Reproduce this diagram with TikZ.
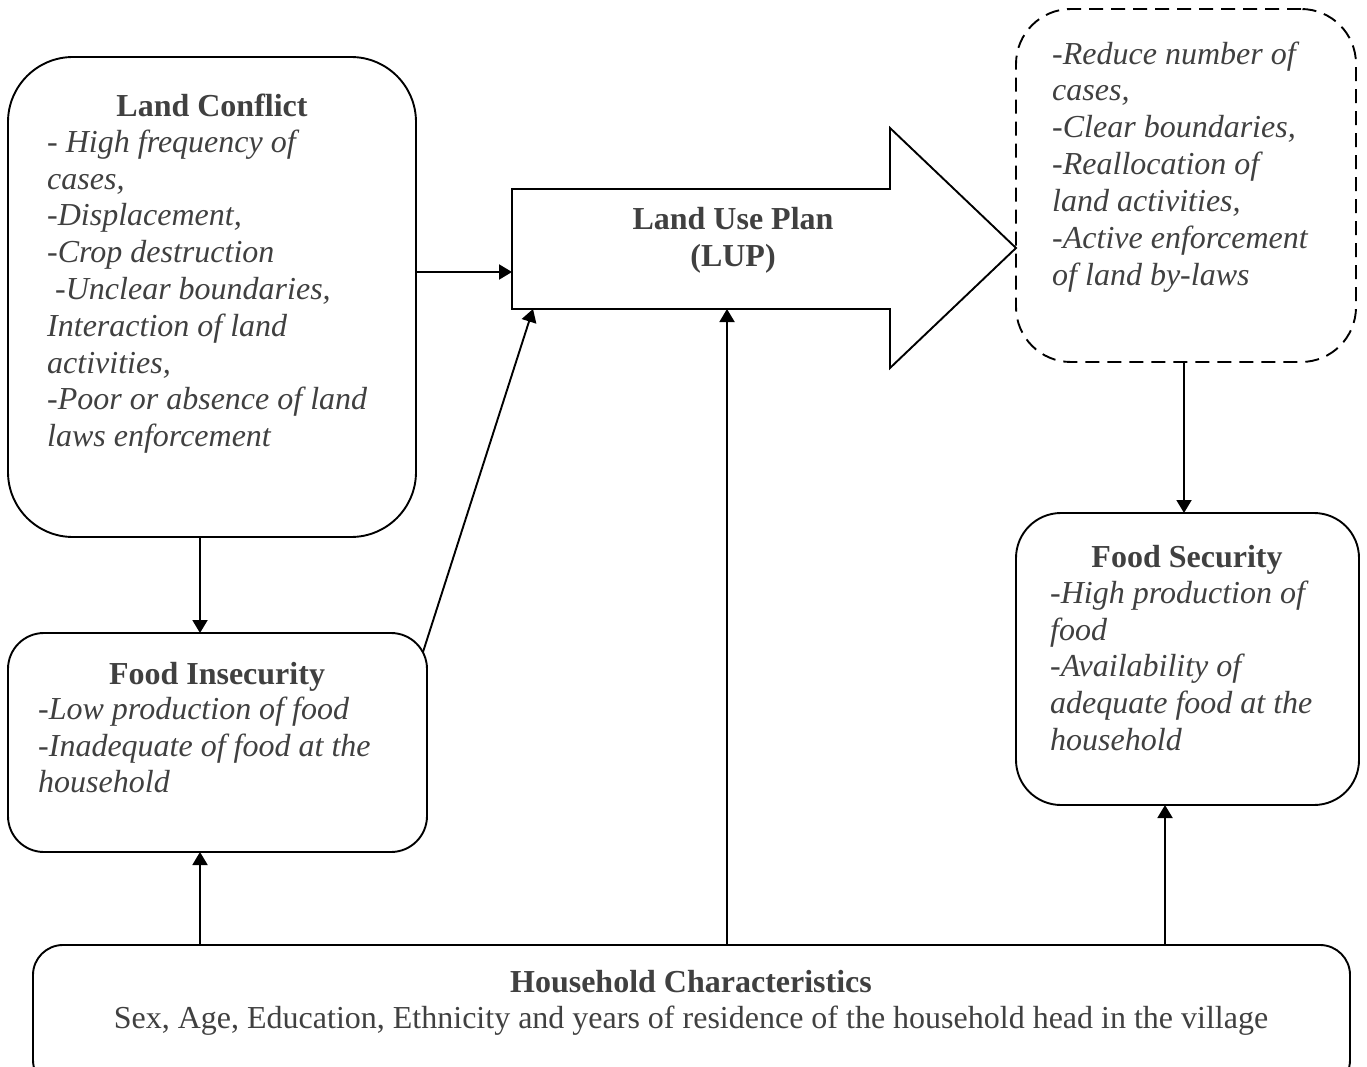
\documentclass[tikz,border=0pt]{standalone}
\usepackage{fontspec}
\setmainfont{Liberation Serif}
\usetikzlibrary{arrows.meta,calc}
\definecolor{txt}{RGB}{64,64,64}
\tikzset{
  box/.style={draw=black, line width=1.9pt, rounded corners=#1, inner sep=0pt, outer sep=0pt},
  box/.default=40pt,
  dashedbox/.style={dash pattern=on 14pt off 8pt},
  shapeline/.style={draw=black, line width=1.9pt},
  arr/.style={draw=black, line width=1.9pt, -{Triangle[length=13pt,width=15pt]}},
  title/.style={font=\fontsize{32}{36.8}\selectfont\bfseries, text=txt, inner sep=0pt},
  plain/.style={font=\fontsize{32}{36.8}\selectfont, text=txt, inner sep=0pt},
  list/.style={font=\fontsize{32}{36.8}\selectfont\itshape, text=txt, align=left, inner sep=0pt}
}
\begin{document}
\begin{tikzpicture}[x=1pt,y=-1pt]
\useasboundingbox (0,0) rectangle (1367,1067);
\clip (0,0) rectangle (1367,1067);
% boxes
\node[box=65pt, minimum width=408pt, minimum height=480pt] (lc) at (212,297) {};
\node[box=36pt, minimum width=419pt, minimum height=219pt] (fi) at (217.5,742.5) {};
\node[box=55pt, dashedbox, minimum width=340pt, minimum height=353pt] (res) at (1186,185.5) {};
\node[box=45pt, minimum width=343pt, minimum height=292pt] (fs) at (1187.5,659) {};
\node[box=30pt, minimum width=1317pt, minimum height=145pt] (hc) at (691.5,1017.5) {};
% land use plan arrow shape
\draw[shapeline] (512,189) -- (890,189) -- (890,128) -- (1016,248) -- (890,368) -- (890,309) -- (512,309) -- cycle;
\coordinate (lupin) at (512,272);
\coordinate (lupfi) at (533,309);
\coordinate (luphc) at (727,309);
\coordinate (xa) at (200,0);
\coordinate (xb) at (1165,0);
\coordinate (xc) at (1184,0);
% texts
\node[title, anchor=base] (lct) at (212,117) {Land Conflict};
\node[list, anchor=north west] (lcl) at (47,127) {\rule{0pt}{25pt}- High frequency of\\cases,\\-Displacement,\\-Crop destruction\\\hspace*{8pt}-Unclear boundaries,\\Interaction of land\\activities,\\-Poor or absence of land\\laws enforcement};
\node[title, align=center, anchor=north] (lup) at (733,204) {\rule{0pt}{25pt}Land Use Plan\\(LUP)};
\node[list, anchor=north west] (resl) at (1052,39) {\rule{0pt}{25pt}-Reduce number of\\cases,\\-Clear boundaries,\\-Reallocation of\\land activities,\\-Active enforcement\\of land by-laws};
\node[title, anchor=base] (fst) at (1187,567) {Food Security};
\node[list, anchor=north west] (fsl) at (1050,578) {\rule{0pt}{25pt}-High production of\\food\\-Availability of\\adequate food at the\\household};
\node[title, anchor=base] (fit) at (217,684) {Food Insecurity};
\node[list, anchor=north west] (fil) at (38,694) {\rule{0pt}{25pt}-Low production of food\\-Inadequate of food at the\\household};
\node[title, anchor=base] (hct) at (691,992) {Household Characteristics};
\node[plain, anchor=base] (hcl) at (691,1028) {Sex, Age, Education, Ethnicity and years of residence of the household head in the village};
% connectors
\draw[arr] (xa |- lc.south) -- (xa |- fi.north);
\draw[arr] (lc.east |- lupin) -- (lupin);
\draw[arr] ([shift={(-4,19)}]fi.north east) -- (lupfi);
\draw[arr] (hc.north -| luphc) -- (luphc);
\draw[arr] (xa |- hc.north) -- (xa |- fi.south);
\draw[arr] (xb |- hc.north) -- (xb |- fs.south);
\draw[arr] (xc |- res.south) -- (xc |- fs.north);
\end{tikzpicture}
\end{document}
